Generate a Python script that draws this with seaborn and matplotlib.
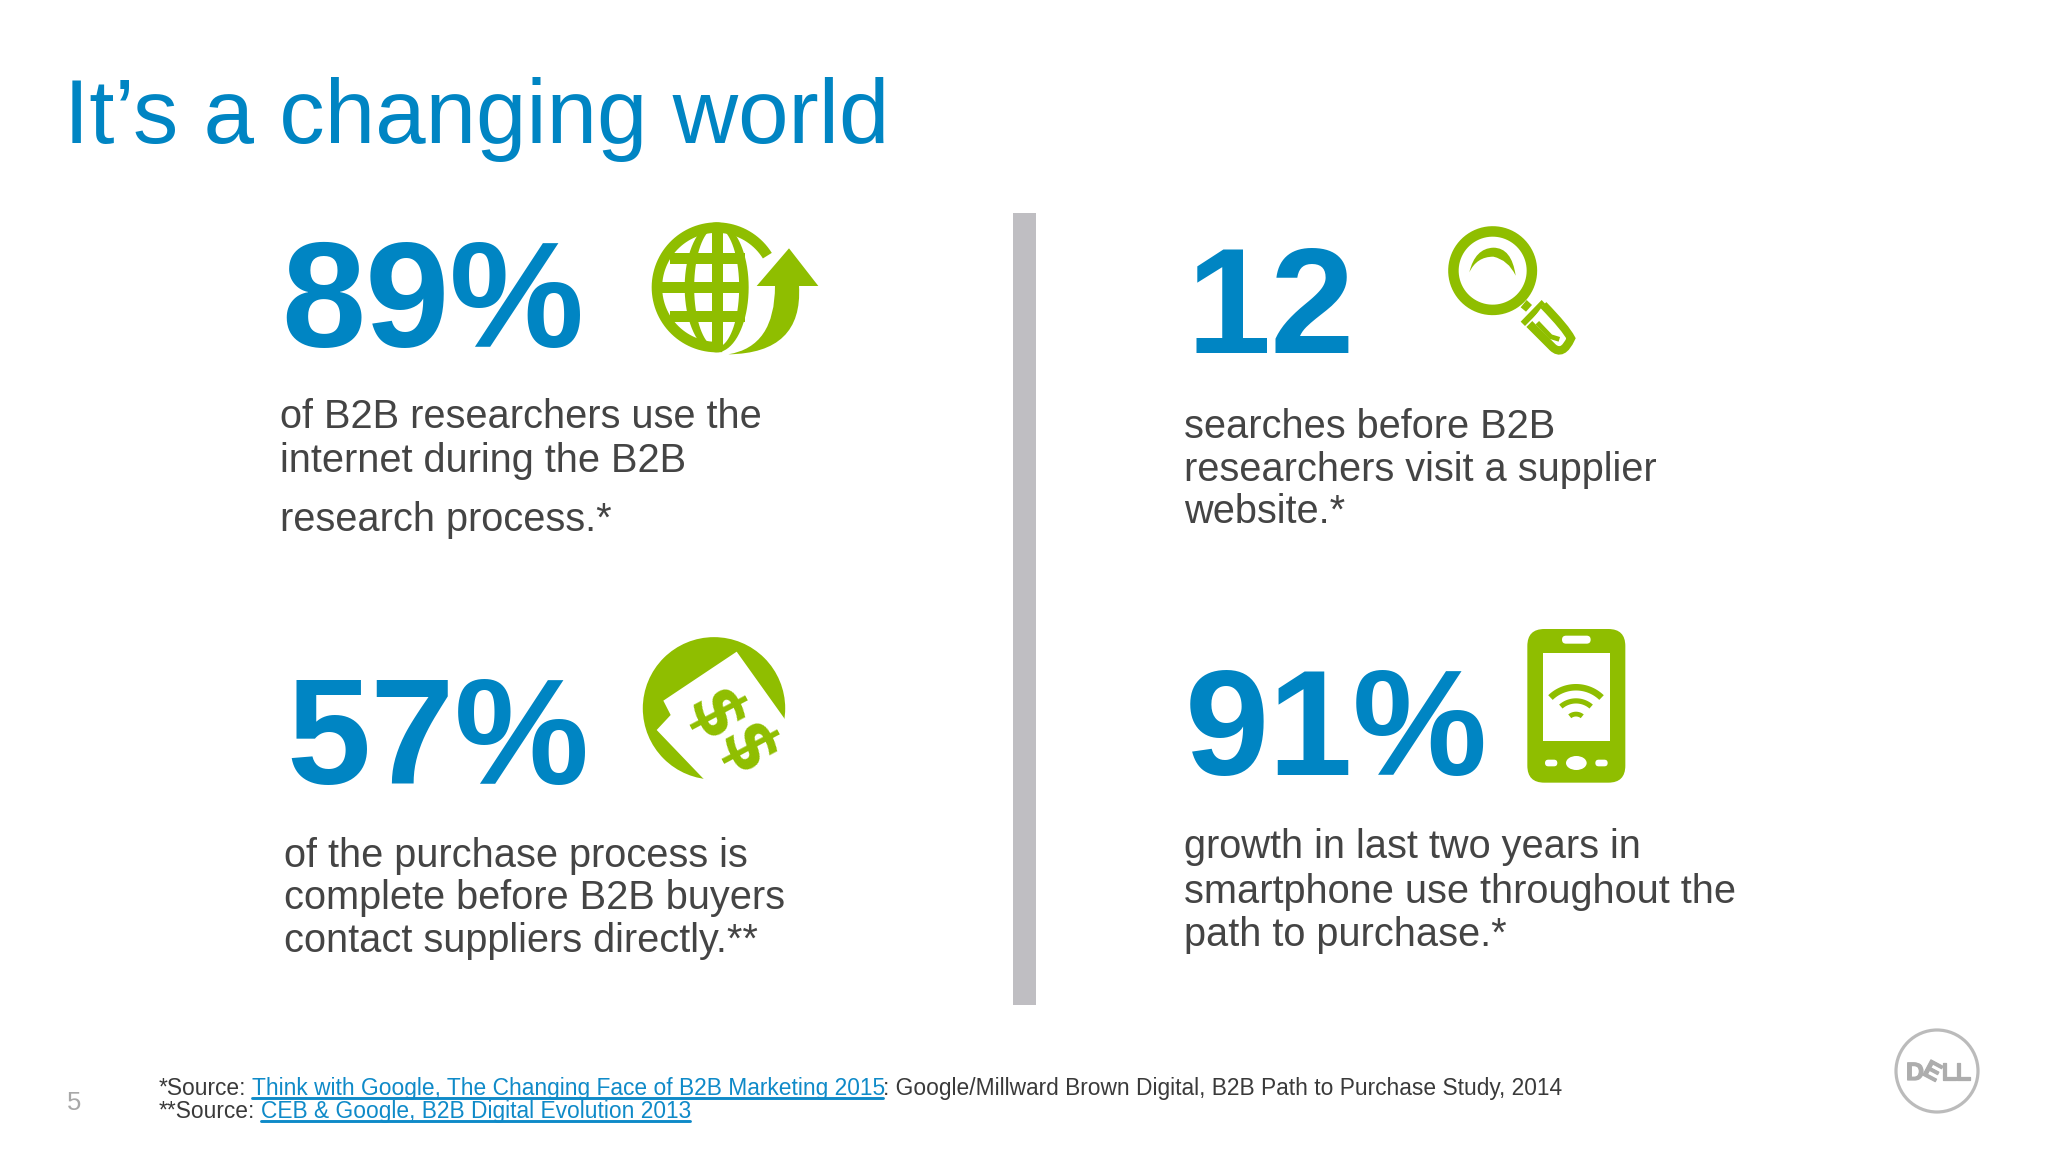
import numpy as np
import matplotlib
matplotlib.use("Agg")
import matplotlib.pyplot as plt
import matplotlib.patheffects as pe
from matplotlib.path import Path
from matplotlib.patches import PathPatch, Polygon, Circle, FancyBboxPatch, Rectangle, Ellipse
import seaborn as sns

title = "It\u2019s a changing world"
stat_values = ["89%", "57%", "12", "91%"]
stat_text_a = ["of B2B researchers use the", "internet during the B2B", "research process.*"]
stat_text_b = ["of the purchase process is", "complete before B2B buyers", "contact suppliers directly.**"]
stat_text_c = ["searches before B2B", "researchers visit a supplier", "website.*"]
stat_text_d = ["growth in last two years in", "smartphone use throughout the", "path to purchase.*"]
source_prefix = ["*Source:", "**Source:"]
source_links = ["Think with Google, The Changing Face of B2B Marketing 2015", "CEB & Google, B2B Digital Evolution 2013"]
source_tail = ": Google/Millward Brown Digital, B2B Path to Purchase Study, 2014"
page_number = "5"

BLUE = "#0085C3"
GREEN = "#8FBE00"
DARK = "#444444"
FOOT = "#3A3A3A"
LINK = "#0F8AC8"

sns.set_theme(style="white")
plt.rcParams["font.family"] = ["Liberation Sans", "DejaVu Sans"]

fig = plt.figure(figsize=(20.48, 11.52), dpi=100, facecolor="white")
ax = fig.add_axes([0, 0, 1, 1])
ax.set_xlim(0, 2048)
ax.set_ylim(1152, 0)
ax.set_aspect("equal")
ax.axis("off")


def put(x, y, s, size, color=DARK, weight="normal", **kw):
    return ax.text(x, y, s, fontsize=size, color=color, fontweight=weight, va="baseline", ha=kw.pop("ha", "left"), **kw)


def zoomer(x0, y0):
    return lambda pts: [(x0 + a / 3, y0 + b / 3) for a, b in pts]


def arc(cx, cy, r, a0, a1, n=80, ry=None):
    t = np.radians(np.linspace(a0, a1, n))
    return np.column_stack([cx + r * np.cos(t), cy + (ry if ry else r) * np.sin(t)])


def band(cx, cy, r_out, r_in, a0, a1, color=GREEN, ry_out=None, ry_in=None, z=3):
    o = arc(cx, cy, r_out, a0, a1, ry=ry_out)
    i = arc(cx, cy, r_in, a1, a0, ry=ry_in)
    ax.add_patch(Polygon(np.vstack([o, i]), closed=True, fc=color, ec="none", zorder=z))


def poly(pts, color=GREEN, z=3):
    ax.add_patch(Polygon(pts, closed=True, fc=color, ec="none", zorder=z))


# ---- text ----
put(64, 143, title, 65.3, BLUE)
for s, x, y in zip(stat_values, [281, 286, 1187, 1185], [347, 784, 353, 775]):
    put(x, y, s, 109, BLUE, "bold")

blocks = [
    (stat_text_a, 279.5, [427.5, 472.5, 531]),
    (stat_text_b, 283.5, [867, 909, 952]),
    (stat_text_c, 1184.5, [437.5, 481, 523]),
    (stat_text_d, 1184.5, [858.5, 903, 946]),
]
for lines, x, ys in blocks:
    for s, y in zip(lines, ys):
        put(x, y, s, 28.65, DARK)

# ---- divider ----
ax.add_patch(Rectangle((1012.5, 213), 23.5, 792, fc="#BFBEC2", ec="none"))

# ---- footer ----
FS = 16.4
put(158.5, 1095, source_prefix[0], FS, FOOT)
put(158.5, 1118, source_prefix[1], FS, FOOT)
put(252, 1095, source_links[0], FS, LINK)
put(261, 1118, source_links[1], FS, LINK)
put(883, 1095, source_tail, FS, FOOT)
sns.lineplot(x=[252, 883], y=[1098, 1098], ax=ax, color=LINK, lw=2.1, legend=False, errorbar=None)
sns.lineplot(x=[261, 690], y=[1121, 1121], ax=ax, color=LINK, lw=2.1, legend=False, errorbar=None)
put(67, 1110, page_number, 18.5, "#A8A8A8")

# ---- globe icon ----
z = zoomer(620, 200)
cx, cy = z([(290, 262)])[0]
band(cx, cy, 65, 54.5, 85, 328)
band(cx, cy, 32, 22.5, 0, 360, ry_out=65, ry_in=60)
for yy, xa, xb in [(175, 150, 376), (262, 105, 383), (350, 150, 376)]:
    (x1, y1), (x2, y2) = z([(xa, yy - 16), (xb, yy + 16)])
    ax.add_patch(Rectangle((x1, y1), x2 - x1, y2 - y1, fc=GREEN, ec="none", zorder=3))
(vx, vy) = z([(275, 70)])[0]
ax.add_patch(Rectangle((vx, vy), 11, 126, fc=GREEN, ec="none", zorder=3))
arrow = z([(507, 145), (595, 258), (537, 258), (549, 460), (325, 463), (465, 440), (465, 258), (410, 258), (507, 145)])
codes = [Path.MOVETO, Path.LINETO, Path.LINETO, Path.CURVE3, Path.CURVE3, Path.CURVE3, Path.CURVE3, Path.LINETO, Path.CLOSEPOLY]
ax.add_patch(PathPatch(Path(arrow, codes), fc=GREEN, ec="none", zorder=4))

# ---- magnifier icon ----
z = zoomer(1430, 210)
cx, cy = z([(188, 182)])[0]
band(cx, cy, 44.5, 34, 0, 360)
cres = z([(118, 187), (135, 115), (190, 113), (245, 113), (257, 197), (235, 150), (190, 140), (140, 140), (118, 187)])
ax.add_patch(PathPatch(Path(cres, [Path.MOVETO] + [Path.CURVE3] * 8), fc=GREEN, ec="none", zorder=3))
poly(z([(272, 292), (290, 270), (306, 285), (288, 305)]))
poly(z([(272, 335), (335, 270), (348, 284), (285, 348)]))
ax.add_patch(PathPatch(Path(z([(298, 342), (368, 412), (398, 440), (423, 385), (408, 355), (340, 285)]),
                            [Path.MOVETO, Path.LINETO, Path.CURVE3, Path.CURVE3, Path.CURVE3, Path.LINETO]),
                       fc="white", ec=GREEN, lw=6, zorder=3, capstyle="butt"))
ax.add_patch(PathPatch(Path(z([(322, 338), (362, 380), (388, 388)]), [Path.MOVETO, Path.LINETO, Path.LINETO]),
                       fc="none", ec=GREEN, lw=3.5, zorder=4))

# ---- money icon ----
z = zoomer(630, 630)
cx, cy = z([(252, 235)])[0]
ax.add_patch(Circle((cx, cy), 71.2, fc=GREEN, ec="none", zorder=3))
poly(z([(320, 65), (465, 268), (500, 500), (222, 448), (80, 300), (122, 255), (100, 212)]), "white", z=4)
for (dx, dy) in z([(250, 262), (345, 365)]):
    ax.text(dx, dy, "$", fontsize=50, fontweight="bold", family="DejaVu Sans", color=GREEN, rotation=-62, ha="center", va="center", zorder=5)

# ---- phone icon ----
z = zoomer(1520, 620)
(x0, y0), (x1, y1) = z([(22, 27), (316, 488)])
ax.add_patch(FancyBboxPatch((x0 + 17, y0 + 17), x1 - x0 - 34, y1 - y0 - 34, boxstyle="round,pad=17,rounding_size=17", fc=GREEN, ec="none", zorder=3))
(x0, y0), (x1, y1) = z([(69, 99), (270, 363)])
ax.add_patch(Rectangle((x0, y0), x1 - x0, y1 - y0, fc="white", ec="none", zorder=4))
for a, b, c, d in [(126, 47, 212, 71), (75, 419, 112, 439), (226, 419, 263, 439)]:
    (x0, y0), (x1, y1) = z([(a, b), (c, d)])
    h = (y1 - y0) / 2
    ax.add_patch(FancyBboxPatch((x0 + h, y0 + h), x1 - x0 - 2 * h, 0.01, boxstyle=f"round,pad={h - 0.01},rounding_size={h - 0.01}", fc="white", ec="none", zorder=4))
ox, oy = z([(169, 429)])[0]
ax.add_patch(Ellipse((ox, oy), 62 / 3, 42 / 3, fc="white", ec="none", zorder=4))
wx, wy = z([(168, 312)])[0]
for r_out, r_in, ang in [(40, 33.5, 44), (25.7, 20.5, 41), (12.3, 7.5, 39)]:
    band(wx, wy, r_out, r_in, -90 - ang, -90 + ang, z=5)

# ---- logo ----
ax.add_patch(Circle((1937, 1071), 41, fc="none", ec="#BBBBBB", lw=2.3, zorder=3))
LOGO = "#ADADAD"
stroke = [pe.withStroke(linewidth=0.9, foreground=LOGO)]
ax.text(1906, 1080, "D", fontsize=18, fontweight="bold", color=LOGO, va="baseline", path_effects=stroke)
ax.text(1932, 1072, "E", fontsize=18, fontweight="bold", color=LOGO, rotation=-28, ha="center", va="center", rotation_mode="anchor", path_effects=stroke)
ax.text(1941, 1080, "L", fontsize=18, fontweight="bold", color=LOGO, va="baseline", path_effects=stroke)
ax.text(1955, 1080, "L", fontsize=18, fontweight="bold", color=LOGO, va="baseline", path_effects=stroke)

fig.savefig("out.png", dpi=100, facecolor="white")
